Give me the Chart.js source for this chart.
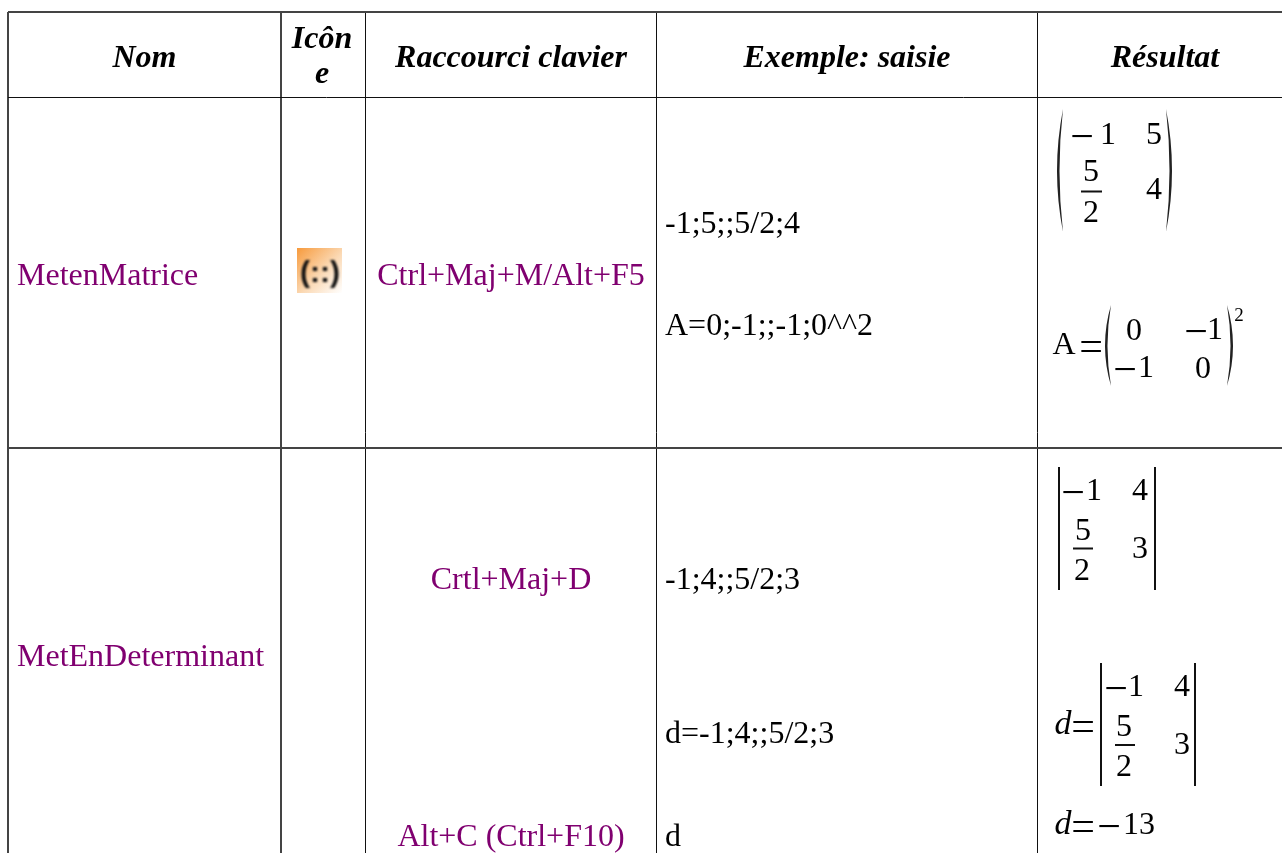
<!DOCTYPE html>
<html lang="fr">
<head>
  <meta charset="UTF-8">
  <title>Commandes matrices</title>
  <script src="https://cdn.jsdelivr.net/npm/chart.js"></script>
  <style>
    html, body { margin: 0; padding: 0; background: #fff; overflow: hidden; }
    canvas { display: block; }
  </style>
</head>
<body>
  <canvas id="tableau" width="1282" height="853"></canvas>

  <script>
    // cell contents
    const headers = ['Nom', 'Icôn\ne', 'Raccourci clavier', 'Exemple: saisie', 'Résultat'];
    const names = ['MetenMatrice', 'MetEnDeterminant'];
    const shortcuts = ['Ctrl+Maj+M/Alt+F5', 'Crtl+Maj+D', 'Alt+C (Ctrl+F10)'];
    const inputs = ['-1;5;;5/2;4', 'A=0;-1;;-1;0^^2', '-1;4;;5/2;3', 'd=-1;4;;5/2;3', 'd'];
    const iconGlyph = '(::)';

    // typeset results, one token per glyph group
    const resultTokens = [
      '−', '1', '5', '5', '2', '4',
      'A', '=', '0', '−', '1', '−', '1', '0', '2',
      '−', '1', '4', '5', '2', '3',
      'd', '=', '−', '1', '4', '5', '2', '3',
      'd', '=', '−', '13'
    ];

    // table grid
    const columnEdges = [8, 281, 365, 657, 1037, 1293];
    const rowEdges = [12, 97, 448];
    const softColumns = [8, 281];
    const softRows = [12, 448];

    // where things go, in axis units
    const nameBaselines = [285, 666];
    const shortcutBaselines = [285, 589, 846];
    const inputBaselines = [233, 335, 589, 743, 846];
    const tokenX = [
      1082, 1108, 1154, 1091, 1091, 1154,
      1064, 1091, 1134, 1196, 1215, 1125, 1146, 1203, 1239,
      1073, 1094, 1140, 1083, 1082, 1140,
      1063, 1083, 1116, 1136, 1182, 1124, 1124, 1182,
      1063, 1083, 1109, 1139
    ];
    const tokenY = [
      144, 144, 144, 181, 222, 199,
      354, 354, 340, 339, 339, 377, 377, 378, 321,
      500, 500, 500, 540, 580, 558,
      734, 734, 696, 696, 696, 736, 776, 754,
      834, 834, 834, 834
    ];
    const rules = [
      [1081, 191.5, 1102, 191.5],
      [1073, 548.5, 1093, 548.5],
      [1115, 745, 1135, 745],
      [1059, 467, 1059, 590],
      [1155, 467, 1155, 590],
      [1101, 663, 1101, 786],
      [1195, 663, 1195, 786]
    ];
    const parens = [
      [1063, 1057, 109, 232],
      [1166, 1172, 109, 232],
      [1111, 1105, 305, 386],
      [1227, 1233, 305, 386]
    ];

    const INK = '#000';
    const PURPLE = '#800070';
    const SERIF = '"Liberation Serif"';

    const tablePlugin = {
      id: 'table',
      afterDatasetsDraw(chart) {
        const { ctx, scales: { x, y } } = chart;
        const put = (text, vx, vy, font, color, align) => {
          ctx.font = font;
          ctx.fillStyle = color;
          ctx.textAlign = align;
          ctx.textBaseline = 'alphabetic';
          ctx.fillText(text, x.getPixelForValue(vx), y.getPixelForValue(vy));
        };
        const mid = i => (columnEdges[i] + columnEdges[i + 1]) / 2;

        ctx.save();

        // header row
        const headFont = `italic bold 32px ${SERIF}`;
        headers.forEach((h, i) => {
          const lines = h.split('\n');
          const base = lines.length > 1 ? [48, 83] : [67];
          lines.forEach((l, j) => put(l, mid(i) - (lines.length > 1 ? 1 : 0), base[j], headFont, INK, 'center'));
        });

        const bodyFont = `32px ${SERIF}`;
        names.forEach((t, i) => put(t, 17, nameBaselines[i], bodyFont, PURPLE, 'left'));
        shortcuts.forEach((t, i) => put(t, mid(2), shortcutBaselines[i], bodyFont, PURPLE, 'center'));
        inputs.forEach((t, i) => put(t, 665, inputBaselines[i], bodyFont, INK, 'left'));

        // results
        resultTokens.forEach((t, i) => {
          let font = bodyFont;
          let drop = 0;
          if (t === '−' || t === '=') { font = `42px ${SERIF}`; drop = 6; }
          if (t === 'd') font = `italic 34px ${SERIF}`;
          if (i === 14) font = `19px ${SERIF}`;
          put(t, tokenX[i], tokenY[i] + drop, font, INK, 'center');
        });

        // parentheses, thin at the tips
        parens.forEach(([tip, bulge, top, bottom]) => {
          const side = bulge < tip ? 1 : -1;
          const cx = 2 * bulge - tip;
          const midY = (top + bottom) / 2;
          ctx.beginPath();
          ctx.moveTo(x.getPixelForValue(tip), y.getPixelForValue(top));
          ctx.quadraticCurveTo(x.getPixelForValue(cx), y.getPixelForValue(midY), x.getPixelForValue(tip), y.getPixelForValue(bottom));
          ctx.quadraticCurveTo(x.getPixelForValue(cx + side * 5), y.getPixelForValue(midY), x.getPixelForValue(tip), y.getPixelForValue(top));
          ctx.fillStyle = '#222';
          ctx.fill();
        });

        // toolbar icon
        const left = x.getPixelForValue(297), top = y.getPixelForValue(248);
        const grad = ctx.createLinearGradient(left, top, left + 45, top + 45);
        grad.addColorStop(0, '#f79a3c');
        grad.addColorStop(0.55, '#fbd9b4');
        grad.addColorStop(1, '#ffffff');
        ctx.fillStyle = grad;
        ctx.fillRect(left, top, 45, 45);
        ctx.filter = 'blur(0.8px)';
        put(iconGlyph, 320, 282, '900 30px "Liberation Sans"', '#111', 'center');
        ctx.filter = 'none';

        ctx.restore();
      }
    };

    const edgeAxis = (edges, soft, min, max, reverse) => ({
      type: 'linear',
      min: min,
      max: max,
      reverse: reverse,
      border: { display: false },
      ticks: { display: false },
      grid: {
        color: c => soft.includes(c.tick.value) ? '#444' : '#111',
        lineWidth: c => soft.includes(c.tick.value) ? 2 : 1,
        drawTicks: false
      },
      afterBuildTicks: axis => { axis.ticks = edges.filter(v => v <= max).map(v => ({ value: v })); }
    });

    new Chart(document.getElementById('tableau'), {
      type: 'scatter',
      data: {
        datasets: rules.map(r => ({
          data: [{ x: r[0], y: r[1] }, { x: r[2], y: r[3] }],
          showLine: true,
          borderColor: '#111',
          borderWidth: 2,
          pointRadius: 0
        }))
      },
      options: {
        responsive: false,
        animation: false,
        layout: { padding: { left: 8, top: 12 } },
        plugins: { legend: { display: false }, tooltip: { enabled: false } },
        scales: {
          x: edgeAxis(columnEdges, softColumns, 8, 1282, false),
          y: edgeAxis(rowEdges, softRows, 12, 853, true)
        }
      },
      plugins: [tablePlugin]
    });
  </script>
</body>
</html>
